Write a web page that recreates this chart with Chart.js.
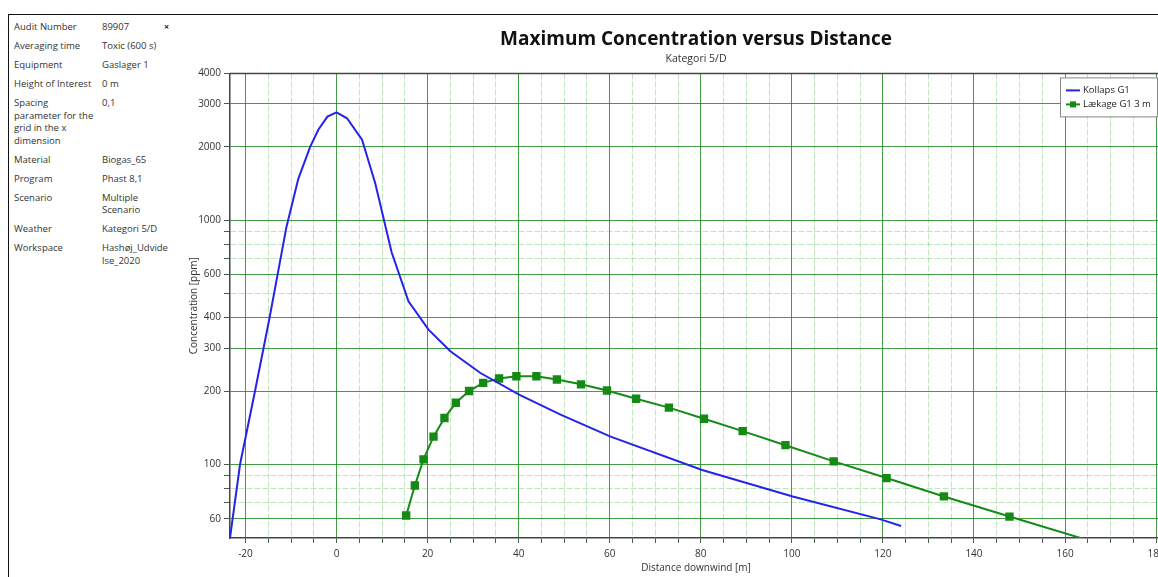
<!DOCTYPE html>
<html>
<head>
<meta charset="utf-8">
<title>Maximum Concentration versus Distance</title>
<script src="https://cdn.jsdelivr.net/npm/chart.js@4.4.1/dist/chart.umd.min.js"></script>
<style>
  html, body { margin: 0; padding: 0; width: 1158px; height: 577px; overflow: hidden; background: #fff; }
  body { position: relative; font-family: "Open Sans", sans-serif; }
  #topline { position: absolute; left: 8px; top: 14px; width: 1150px; height: 1px; background: #111; }
  #panel { position: absolute; left: 8px; top: 14px; width: 168px; height: 563px; border-left: 1px solid #111; padding-top: 4px; box-sizing: border-box; }
  .row { display: flex; font-size: 9.5px; line-height: 12.5px; color: #333; padding: 3.25px 0; }
  .row .k { width: 88px; padding-left: 5px; }
  .row .v { width: 62px; }
  .row .x { font-weight: bold; font-size: 9px; color: #222; }
  #wrap { position: absolute; left: 176px; top: 16px; width: 1040px; height: 561px; }
</style>
</head>
<body>
<div id="topline"></div>
<div id="panel">
  <div class="row"><div class="k">Audit Number</div><div class="v">89907</div><div class="x">×</div></div>
  <div class="row"><div class="k">Averaging time</div><div class="v">Toxic (600 s)</div></div>
  <div class="row"><div class="k">Equipment</div><div class="v">Gaslager 1</div></div>
  <div class="row"><div class="k">Height of Interest</div><div class="v">0 m</div></div>
  <div class="row"><div class="k">Spacing<br>parameter for the<br>grid in the x<br>dimension</div><div class="v">0,1</div></div>
  <div class="row"><div class="k">Material</div><div class="v">Biogas_65</div></div>
  <div class="row"><div class="k">Program</div><div class="v">Phast 8,1</div></div>
  <div class="row"><div class="k">Scenario</div><div class="v">Multiple<br>Scenario</div></div>
  <div class="row"><div class="k">Weather</div><div class="v">Kategori 5/D</div></div>
  <div class="row"><div class="k">Workspace</div><div class="v">Hashøj_Udvide<br>lse_2020</div></div>
</div>
<div id="wrap"><canvas id="chart" width="1040" height="561"></canvas></div>
<script>
'use strict';

// Kollaps G1 (blue, no markers)
const kollapsX = [-23.4, -21.2, -17.9, -14.7, -11.0, -8.4, -5.8, -4.0, -2.0, 0, 2.3, 5.6, 8.5, 12.1, 15.8, 20.2, 25.0, 31.6, 40.2, 49.2, 60.2, 80.3, 100.2, 119.5, 124.0];
const kollapsY = [50, 100, 200, 400, 940, 1480, 2000, 2350, 2660, 2770, 2620, 2140, 1420, 740, 466, 357, 291, 237, 193, 160, 130, 95, 74, 59.6, 56];

// Lækage G1 3 m (green, square markers)
const laekageX = [15.3, 17.2, 19.1, 21.3, 23.7, 26.2, 29.1, 32.2, 35.7, 39.5, 43.9, 48.4, 53.7, 59.4, 65.8, 73.0, 80.7, 89.2, 98.6, 109.2, 120.8, 133.4, 147.8, 164.5];
const laekageY = [61.8, 82, 105, 130, 155, 179, 200, 216, 225, 230, 230, 223, 213, 201, 186, 171, 154, 137, 120, 103, 88, 74, 61.2, 49.3];

const yTickValues = [60, 70, 80, 90, 100, 200, 300, 400, 500, 600, 700, 800, 900, 1000, 2000, 3000, 4000];
const yLabelValues = [60, 100, 200, 300, 400, 600, 1000, 2000, 3000, 4000];
const xLabelStep = 20;
const xMinorStep = 5;

const majorGrid = 'rgba(20, 130, 20, 0.8)';
const minorGrid = 'rgba(40, 170, 40, 0.3)';

Chart.defaults.font.family = '"Open Sans", sans-serif';

const toPoints = (xs, ys) => xs.map((x, i) => ({ x: x, y: ys[i] }));

// plot frame (top edge) and the boxed legend in the upper right
const frame = {
  id: 'frame',
  beforeDatasetsDraw(chart) {
    const { ctx, chartArea } = chart;
    ctx.save();
    ctx.strokeStyle = '#444';
    ctx.lineWidth = 1.5;
    ctx.beginPath();
    ctx.moveTo(chartArea.left, chartArea.top);
    ctx.lineTo(chartArea.right, chartArea.top);
    ctx.lineTo(chartArea.right, chartArea.bottom);
    ctx.stroke();
    ctx.restore();
  },
  afterDraw(chart) {
    const { ctx, chartArea } = chart;
    const x = chartArea.right - 102;
    const y = chartArea.top + 4;
    ctx.save();
    ctx.fillStyle = '#fff';
    ctx.fillRect(x, y, 97, 39);
    ctx.strokeStyle = '#888';
    ctx.lineWidth = 1;
    ctx.strokeRect(x + 0.5, y + 0.5, 97, 39);
    chart.data.datasets.forEach((ds, i) => {
      const ly = y + 13 + i * 14;
      ctx.strokeStyle = ds.borderColor;
      ctx.lineWidth = 2;
      ctx.beginPath();
      ctx.moveTo(x + 6, ly);
      ctx.lineTo(x + 20, ly);
      ctx.stroke();
      if (ds.pointStyle === 'rect') {
        ctx.fillStyle = ds.borderColor;
        ctx.fillRect(x + 10, ly - 3, 6, 6);
      }
      ctx.fillStyle = '#222';
      ctx.font = '9.5px "Open Sans"';
      ctx.textBaseline = 'middle';
      ctx.fillText(ds.label, x + 23, ly);
    });
    ctx.restore();
  }
};

const data = {
  datasets: [
    {
      label: 'Kollaps G1',
      data: toPoints(kollapsX, kollapsY),
      borderColor: '#2424e8',
      borderWidth: 2,
      pointRadius: 0,
      tension: 0,
    },
    {
      label: 'Lækage G1 3 m',
      data: toPoints(laekageX, laekageY),
      borderColor: '#158a15',
      backgroundColor: '#158a15',
      borderWidth: 2,
      pointStyle: 'rect',
      pointRadius: ctx => (ctx.dataIndex === laekageX.length - 1 ? 0 : 4.5),
      tension: 0,
    },
  ],
};

const config = {
  type: 'line',
  data: data,
  plugins: [frame],
  options: {
    responsive: false,
    animation: false,
    devicePixelRatio: 1,
    layout: { padding: { left: 0, right: 54, top: 0, bottom: 0 } },
    plugins: {
      legend: { display: false },
      tooltip: { enabled: false },
      title: {
        display: true,
        fullSize: false,
        text: 'Maximum Concentration versus Distance',
        color: '#111',
        font: { size: 19, weight: 'bold' },
        padding: { top: 12, bottom: 0 },
      },
      subtitle: {
        display: true,
        fullSize: false,
        text: 'Kategori 5/D',
        color: '#333',
        font: { size: 10.5 },
        padding: { top: 2, bottom: 8 },
      },
    },
    scales: {
      x: {
        type: 'linear',
        min: -23.4,
        max: 181.3,
        afterFit: scale => { scale.height = 39; },
        ticks: {
          stepSize: xMinorStep,
          includeBounds: false,
          autoSkip: false,
          maxRotation: 0,
          padding: 5,
          color: '#333',
          font: { size: 10 },
          callback: v => (v % xLabelStep === 0 ? String(v) : ''),
        },
        grid: {
          color: ctx => (ctx.tick && ctx.tick.value % xLabelStep === 0 ? majorGrid : minorGrid),
          tickColor: '#555',
          tickLength: 5,
        },
        border: {
          color: '#444',
          width: 1.5,
          dash: ctx => (ctx.tick && ctx.tick.value % xLabelStep !== 0 ? [6, 2] : []),
        },
        title: {
          display: true,
          text: 'Distance downwind [m]',
          color: '#333',
          font: { size: 10 },
          padding: { top: 0, bottom: 3 },
        },
      },
      y: {
        type: 'logarithmic',
        min: 50,
        max: 4000,
        afterFit: scale => { scale.width = 54; },
        afterBuildTicks: scale => { scale.ticks = yTickValues.map(v => ({ value: v })); },
        ticks: {
          autoSkip: false,
          padding: 3,
          color: '#333',
          font: { size: 10 },
          callback: v => (yLabelValues.includes(v) ? String(v) : ''),
        },
        grid: {
          color: ctx => (ctx.tick && yLabelValues.includes(ctx.tick.value) ? majorGrid : minorGrid),
          tickColor: '#555',
          tickLength: 6,
        },
        border: {
          color: '#444',
          width: 1.5,
          dash: ctx => (ctx.tick && !yLabelValues.includes(ctx.tick.value) ? [6, 2] : []),
        },
        title: {
          display: true,
          text: 'Concentration [ppm]',
          color: '#333',
          font: { size: 10 },
          padding: { top: 12, bottom: 0 },
        },
      },
    },
  },
};

new Chart(document.getElementById('chart'), config);
</script>
</body>
</html>
